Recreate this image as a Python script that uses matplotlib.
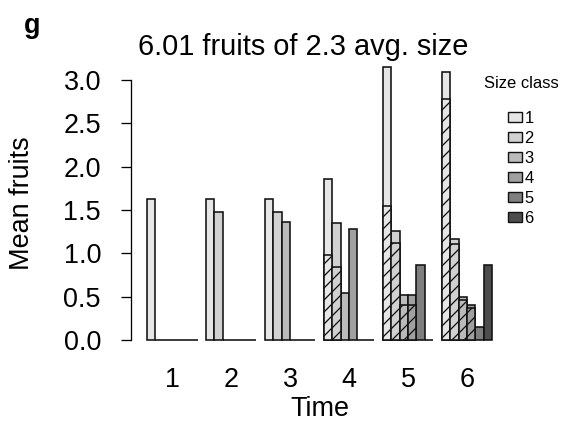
import numpy as np
import matplotlib.pyplot as plt
from matplotlib.patches import Patch

plt.rcParams['font.family'] = ['Liberation Sans', 'DejaVu Sans']
plt.rcParams['hatch.linewidth'] = 1.3

# mean fruits per size class and time step (total bar height)
times = ['1', '2', '3', '4', '5', '6']
size_classes = ['1', '2', '3', '4', '5', '6']
class1 = [1.63, 1.63, 1.63, 1.86, 3.15, 3.09]
class2 = [0.00, 1.48, 1.48, 1.35, 1.26, 1.16]
class3 = [0.00, 0.00, 1.36, 0.54, 0.52, 0.50]
class4 = [0.00, 0.00, 0.00, 1.28, 0.52, 0.40]
class5 = [0.00, 0.00, 0.00, 0.00, 0.86, 0.15]
class6 = [0.00, 0.00, 0.00, 0.00, 0.00, 0.86]
# hatched (lower) part of each bar
hatch1 = [0.00, 0.00, 0.00, 0.98, 1.55, 2.78]
hatch2 = [0.00, 0.00, 0.00, 0.84, 1.12, 1.11]
hatch3 = [0.00, 0.00, 0.00, 0.00, 0.41, 0.46]
hatch4 = [0.00, 0.00, 0.00, 0.00, 0.41, 0.37]
hatch5 = [0.00, 0.00, 0.00, 0.00, 0.00, 0.00]
hatch6 = [0.00, 0.00, 0.00, 0.00, 0.00, 0.00]

totals = [class1, class2, class3, class4, class5, class6]
hatched = [hatch1, hatch2, hatch3, hatch4, hatch5, hatch6]
greys = ['#e6e6e6', '#d1d1d1', '#bbbbbb', '#a0a0a0', '#7f7f7f', '#4d4d4d']

W, H = 566, 425
fig = plt.figure(figsize=(W / 72, H / 72), dpi=72)
# axes placed in pixel coords
left, right, bottom, top = 131, 506, 351, 55.6
ax = fig.add_axes([left / W, 1 - bottom / H, (right - left) / W, (bottom - top) / H])

n = len(size_classes)
for g in range(len(times)):
    for k in range(n):
        x = g * (n + 1) + 1 + k
        ax.bar(x, totals[k][g], width=1, align='edge', color=greys[k],
               edgecolor='#111111', linewidth=1.6, zorder=2)
        if hatched[k][g] > 0:
            ax.bar(x, hatched[k][g], width=1, align='edge', color=greys[k],
                   edgecolor='#111111', linewidth=1.6, hatch='//', zorder=3)

ax.set_xlim(-0.9, 43.64)
ax.set_ylim(-0.126, 3.28)
for s in ['top', 'right', 'bottom']:
    ax.spines[s].set_visible(False)
ax.spines['left'].set_bounds(0, 3)
ax.spines['left'].set_linewidth(1.3)
ax.set_xticks([])
ax.set_yticks(np.arange(0, 3.01, 0.5))
ax.set_yticklabels(['%.1f' % v for v in np.arange(0, 3.01, 0.5)])
ax.tick_params(axis='y', length=10, width=1.3, pad=20, labelsize=27)

# group labels under each time step
for g, t in enumerate(times):
    cx = g * (n + 1) + 1 + n / 2
    ax.text(cx, -0.46, t, ha='center', va='center', fontsize=27)

fig.text(320 / W, 1 - 409 / H, 'Time', ha='center', va='center', fontsize=27)
fig.text(22 / W, 1 - 203 / H, 'Mean fruits', ha='center', va='center',
         rotation=90, fontsize=27)
fig.text(303 / W, 1 - 55 / H, '6.01 fruits of 2.3 avg. size', ha='center',
         va='baseline', fontsize=29)
fig.text(32 / W, 1 - 33 / H, 'g', ha='center', va='baseline', fontsize=27,
         fontweight='bold')

fig.text(521 / W, 1 - 84 / H, 'Size class', ha='center', va='center',
         fontsize=16.5)
handles = [Patch(facecolor=c, edgecolor='#111111', linewidth=1.4) for c in greys]
leg = fig.legend(handles, size_classes, loc='upper center',
                 bbox_to_anchor=(521 / W, 1 - 111 / H), frameon=False,
                 fontsize=16.5, handlelength=0.85, handleheight=0.6,
                 handletextpad=0.12, labelspacing=0.3, borderpad=0,
                 borderaxespad=0)

fig.savefig('out.png', dpi=72)
